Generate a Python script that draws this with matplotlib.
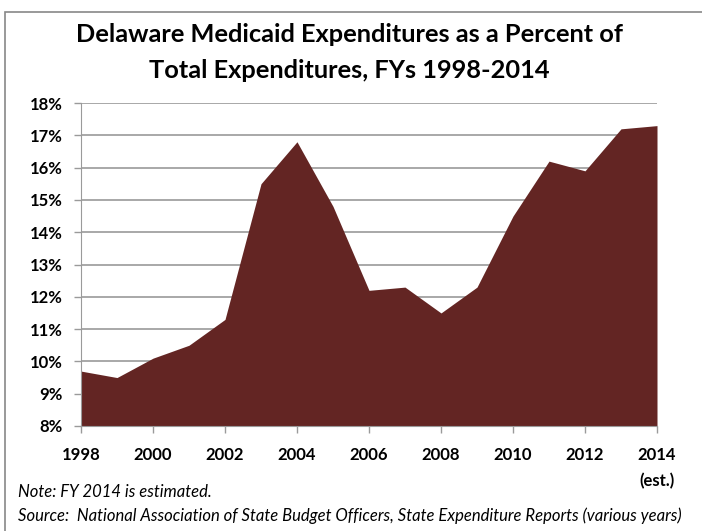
import matplotlib.pyplot as plt
from matplotlib.patches import Rectangle
from matplotlib.ticker import FuncFormatter

# Data (percent of total expenditures)
years = [1998, 1999, 2000, 2001, 2002, 2003, 2004, 2005, 2006,
         2007, 2008, 2009, 2010, 2011, 2012, 2013, 2014]
pct = [9.7, 9.5, 10.1, 10.5, 11.3, 15.5, 16.8, 14.8, 12.2,
       12.3, 11.5, 12.3, 14.5, 16.2, 15.9, 17.2, 17.3]
tick_years = [1998, 2000, 2002, 2004, 2006, 2008, 2010, 2012, 2014]
tick_labels = ["1998", "2000", "2002", "2004", "2006", "2008", "2010", "2012", "2014\n(est.)"]

plt.rcParams['font.family'] = ['Lato', 'DejaVu Sans']

fig = plt.figure(figsize=(7.02, 5.31), dpi=100)
ax = fig.add_axes([81 / 702, 1 - 426 / 531, 576 / 702, 323 / 531])

ax.fill_between(years, 8, pct, color="#632523", linewidth=0, zorder=3)

ax.set_xlim(1998, 2014)
ax.set_ylim(8, 18)
ax.set_yticks(range(8, 19))
ax.yaxis.set_major_formatter(FuncFormatter(lambda v, p: f"{int(v)}%"))
ax.set_xticks(tick_years)
ax.set_xticklabels(tick_labels, ha="center", va="top", linespacing=1.75)

ax.grid(axis="y", color="#9a9a9a", linewidth=1.2, zorder=1)
for s in ["top", "right"]:
    ax.spines[s].set_visible(False)
for s in ["left", "bottom"]:
    ax.spines[s].set_color("#9a9a9a")
    ax.spines[s].set_zorder(4)
ax.tick_params(axis="both", colors="#9a9a9a", labelcolor="black", length=5, width=1)
ax.tick_params(axis="x", pad=10)
ax.tick_params(axis="y", pad=8)
for lab in ax.get_xticklabels() + ax.get_yticklabels():
    lab.set_fontweight("bold")
    lab.set_fontsize(12)

fig.text(0.498, 1 - 34 / 531, "Delaware Medicaid Expenditures as a Percent of",
         ha="center", va="center", fontsize=18.3, fontweight="bold")
fig.text(0.498, 1 - 70 / 531, "Total Expenditures, FYs 1998-2014",
         ha="center", va="center", fontsize=18.3, fontweight="bold")

fig.text(18 / 702, 1 - 492 / 531, "Note: FY 2014 is estimated.",
         ha="left", va="center", fontsize=12, style="italic")
fig.text(18 / 702, 1 - 516 / 531,
         "Source:  National Association of State Budget Officers, State Expenditure Reports (various years)",
         ha="left", va="center", fontsize=12, style="italic")

# outer frame
fig.patches.append(Rectangle((5 / 702, -0.05), 1.1, 1 - 12 / 531 + 0.05,
                             transform=fig.transFigure, fill=False,
                             edgecolor="#888888", linewidth=1.2))

fig.savefig("out.png", dpi=100)
